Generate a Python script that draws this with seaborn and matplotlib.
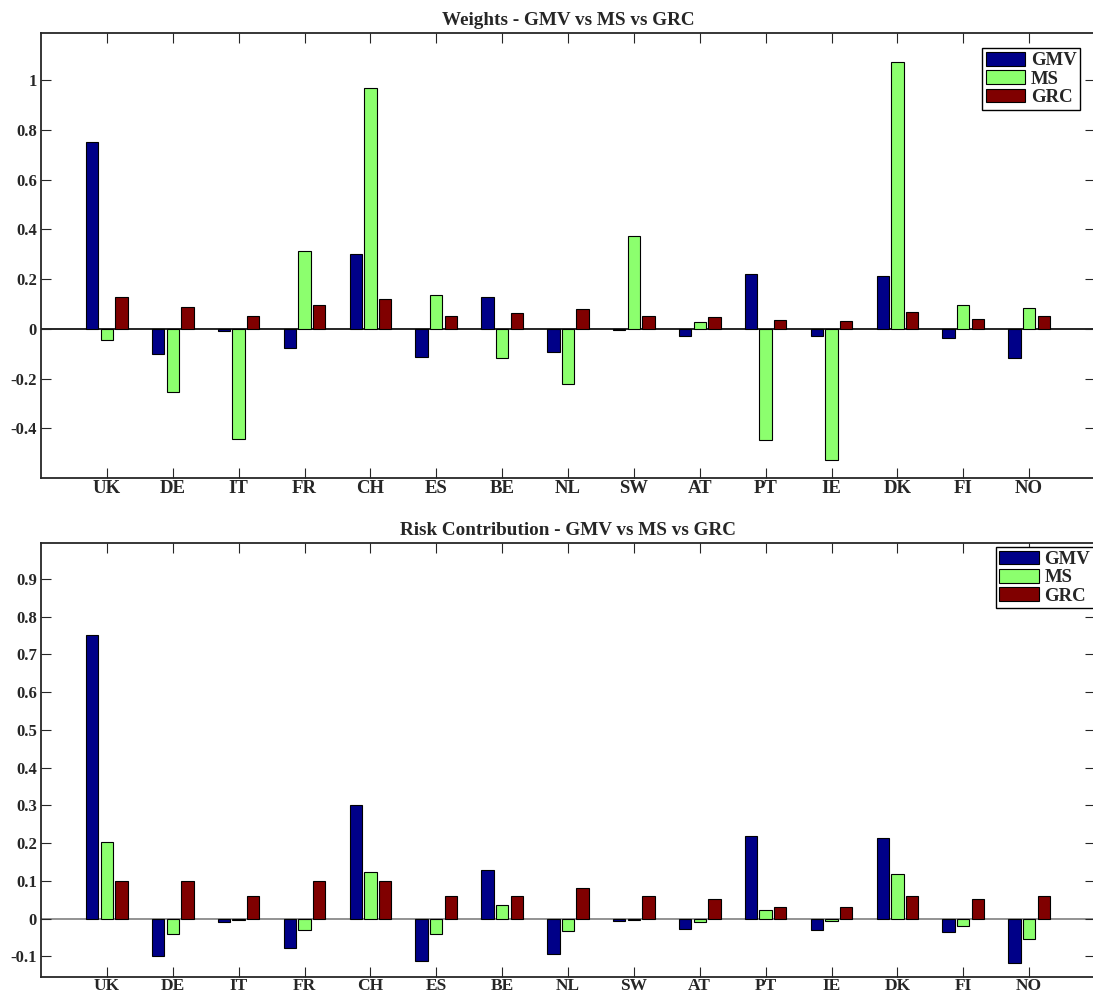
import numpy as np
import pandas as pd
import matplotlib
matplotlib.use("Agg")
import matplotlib.pyplot as plt
import seaborn as sns
from matplotlib.ticker import FuncFormatter

countries = ["UK", "DE", "IT", "FR", "CH", "ES", "BE", "NL", "SW", "AT", "PT", "IE", "DK", "FI", "NO"]
series_names = ["GMV", "MS", "GRC"]

w_gmv = [0.75, -0.10, -0.009, -0.077, 0.30, -0.113, 0.128, -0.093, -0.006, -0.029, 0.219, -0.03, 0.212, -0.037, -0.118]
w_ms = [-0.044, -0.256, -0.444, 0.312, 0.97, 0.137, -0.119, -0.223, 0.372, 0.027, -0.448, -0.529, 1.073, 0.097, 0.084]
w_grc = [0.128, 0.088, 0.053, 0.095, 0.12, 0.053, 0.064, 0.08, 0.053, 0.047, 0.036, 0.033, 0.067, 0.04, 0.053]

rc_gmv = [0.75, -0.10, -0.009, -0.077, 0.30, -0.113, 0.128, -0.093, -0.006, -0.029, 0.219, -0.03, 0.212, -0.037, -0.118]
rc_ms = [0.204, -0.041, -0.003, -0.030, 0.123, -0.041, 0.036, -0.032, -0.004, -0.009, 0.023, -0.006, 0.118, -0.019, -0.054]
rc_grc = [0.10, 0.10, 0.06, 0.10, 0.10, 0.06, 0.06, 0.081, 0.06, 0.052, 0.031, 0.031, 0.06, 0.052, 0.06]

colors = ["#000088", "#8CFF6E", "#800000"]

w_yticks = [-0.4, -0.2, 0, 0.2, 0.4, 0.6, 0.8, 1.0]
rc_yticks = [-0.1, 0, 0.1, 0.2, 0.3, 0.4, 0.5, 0.6, 0.7, 0.8, 0.9]

sns.set_style("ticks")
plt.rcParams["font.family"] = ["Liberation Serif", "DejaVu Serif"]
plt.rcParams["font.weight"] = "bold"


def long_df(a, b, c):
    rows = []
    for vals, name in zip((a, b, c), series_names):
        for ctry, v in zip(countries, vals):
            rows.append({"country": ctry, "series": name, "value": v})
    return pd.DataFrame(rows)


fig = plt.figure(figsize=(10.93, 9.96), dpi=100)
W = 1093.0
H = 996.0
ax1 = fig.add_axes([41 / W, 1 - 478 / H, 1054 / W, 445 / H])
ax2 = fig.add_axes([41 / W, 1 - 977 / H, 1054 / W, 434 / H])

panels = [
    (ax1, long_df(w_gmv, w_ms, w_grc), "Weights - GMV vs MS vs GRC", (-0.6, 1.19), w_yticks, "black",
     (0.986, 0.966), 13.5, 1.5),
    (ax2, long_df(rc_gmv, rc_ms, rc_grc), "Risk Contribution - GMV vs MS vs GRC", (-0.155, 0.995), rc_yticks,
     "#808080", (0.999, 0.991), 12.5, 0.5),
]

for ax, df, title, ylim, yticks, zc, anchor, xls, xpad in panels:
    sns.barplot(data=df, x="country", y="value", hue="series", hue_order=series_names,
                order=countries, palette=colors, width=0.667, gap=0.15,
                edgecolor="black", linewidth=0.8, saturation=1, ax=ax, legend=False)
    ax.axhline(0, color=zc, lw=1.2, zorder=0.5)
    ax.set_xlim(-1, 15)
    ax.set_ylim(*ylim)
    ax.set_yticks(yticks)
    ax.yaxis.set_major_formatter(FuncFormatter(lambda v, p: "%g" % round(v, 2)))
    ax.set_xlabel("")
    ax.set_ylabel("")
    ax.set_title(title, fontsize=13.8, fontweight="bold", pad=6)
    ax.tick_params(axis="both", direction="in", length=7, width=0.8, top=True, right=True)
    ax.tick_params(axis="x", labelsize=xls, pad=xpad)
    ax.tick_params(axis="y", labelsize=12, pad=3)
    for lab in ax.get_xticklabels() + ax.get_yticklabels():
        lab.set_fontweight("bold")
    for s in ax.spines.values():
        s.set_linewidth(1.3)
        s.set_visible(True)
    handles = [matplotlib.patches.Patch(facecolor=c, edgecolor="black", linewidth=0.8) for c in colors]
    leg = ax.legend(handles, series_names, loc="upper right", bbox_to_anchor=anchor,
                    fancybox=False, framealpha=1, edgecolor="black", prop={"weight": "bold", "size": 13.5},
                    handlelength=2.1, handleheight=0.75, labelspacing=0.05, borderpad=0.2,
                    handletextpad=0.3, borderaxespad=0)
    leg.get_frame().set_linewidth(1.0)

fig.savefig("out.png", dpi=100)
